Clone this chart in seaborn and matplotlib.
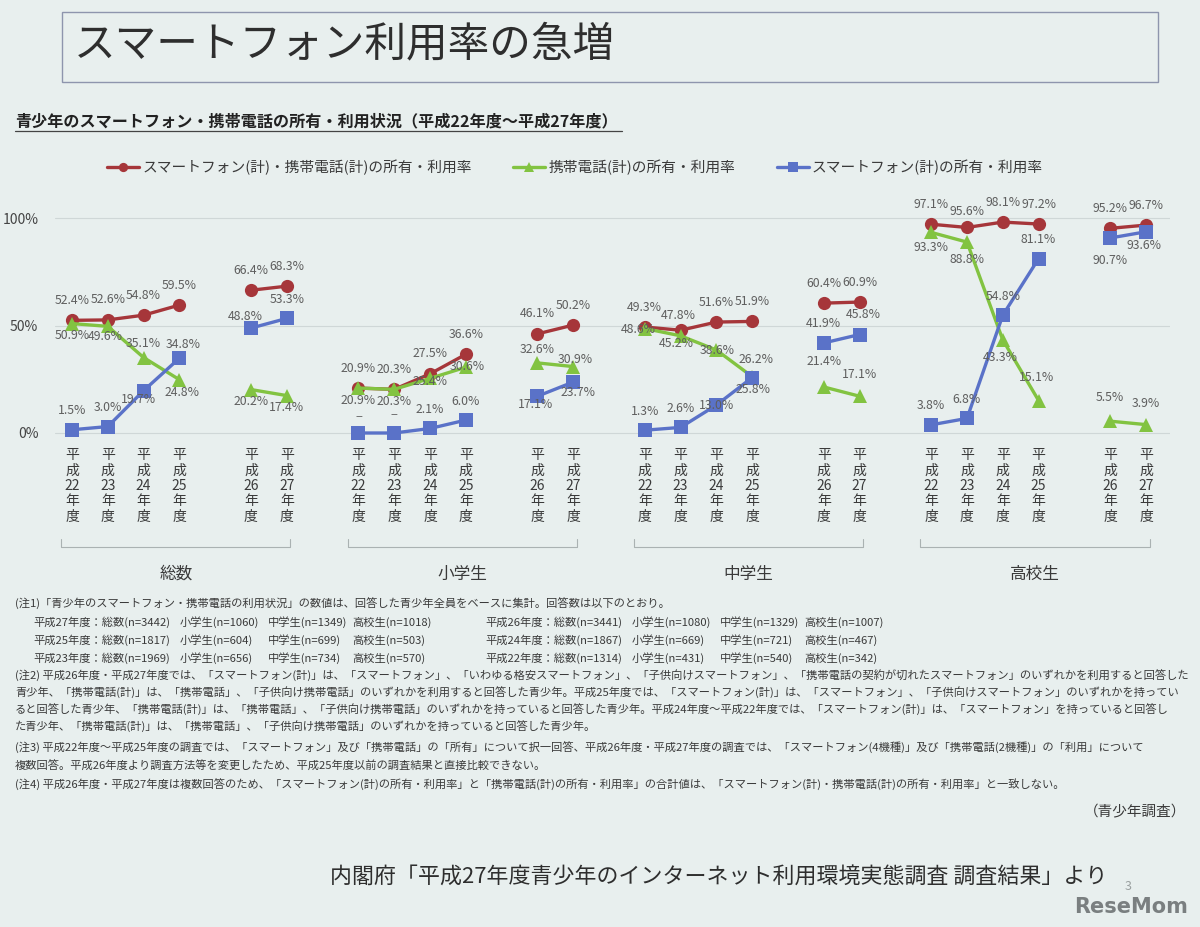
import matplotlib
matplotlib.use("Agg")
import matplotlib.pyplot as plt
import matplotlib.transforms as mtrans
from matplotlib.patches import Rectangle
from matplotlib.lines import Line2D
import seaborn as sns
import pandas as pd

# ---------------- data ----------------
groups = ["総数", "小学生", "中学生", "高校生"]
years = ["平成22年度", "平成23年度", "平成24年度", "平成25年度", "平成26年度", "平成27年度"]
year_ticks = ["平\n成\n22\n年\n度", "平\n成\n23\n年\n度", "平\n成\n24\n年\n度",
              "平\n成\n25\n年\n度", "平\n成\n26\n年\n度", "平\n成\n27\n年\n度"]
series = ["スマートフォン(計)・携帯電話(計)の所有・利用率",
          "携帯電話(計)の所有・利用率",
          "スマートフォン(計)の所有・利用率"]

both_rate = [
    [52.4, 52.6, 54.8, 59.5, 66.4, 68.3],
    [20.9, 20.3, 27.5, 36.6, 46.1, 50.2],
    [49.3, 47.8, 51.6, 51.9, 60.4, 60.9],
    [97.1, 95.6, 98.1, 97.2, 95.2, 96.7],
]
phone_rate = [
    [50.9, 49.6, 35.1, 24.8, 20.2, 17.4],
    [20.9, 20.3, 25.4, 30.6, 32.6, 30.9],
    [48.6, 45.2, 38.6, 26.2, 21.4, 17.1],
    [93.3, 88.8, 43.3, 15.1, 5.5, 3.9],
]
smart_rate = [
    [1.5, 3.0, 19.7, 34.8, 48.8, 53.3],
    [None, None, 2.1, 6.0, 17.1, 23.7],
    [1.3, 2.6, 13.0, 25.8, 41.9, 45.8],
    [3.8, 6.8, 54.8, 81.1, 90.7, 93.6],
]

# ---------------- styles ----------------
colors = ["#a6363a", "#82c341", "#5a72c8"]
marker_shapes = ["o", "^", "s"]
slot = [0, 1, 2, 3, 5, 6]       # slot of each year inside a group (gap before H26)
group_step = 8
default_offset = [(0, 20), (0, -12), (0, 19)]   # pixels, per series
label_offset = {
    (0, 1, 1): (-2, -10), (0, 2, 1): (0, 14), (0, 2, 2): (-5, -9), (0, 4, 2): (-6, 12),
    (0, 3, 2): (4, 14), (0, 3, 1): (3, -13),
    (1, 2, 1): (0, -3), (1, 3, 1): (1, 1), (1, 4, 1): (0, 13), (1, 5, 1): (2, 7),
    (1, 4, 2): (-2, -8), (1, 5, 2): (5, -10), (1, 0, 2): (0, 15), (1, 1, 2): (0, 17),
    (2, 0, 1): (-6, -1), (2, 1, 1): (-4, -8), (2, 2, 1): (1, 0), (2, 3, 1): (4, 17),
    (2, 2, 2): (0, 0), (2, 3, 2): (1, -12), (2, 4, 1): (0, 25), (2, 5, 1): (0, 22),
    (2, 1, 0): (-2, 15), (2, 5, 2): (4, 20),
    (3, 0, 1): (0, -15), (3, 1, 1): (0, -17), (3, 2, 1): (-2, -18),
    (3, 3, 1): (-2, 23), (3, 4, 1): (0, 24), (3, 5, 1): (0, 21),
    (3, 4, 2): (0, -23), (3, 5, 2): (-2, -14), (3, 1, 0): (0, 16),
}

W, H = 1200, 927
BG = "#e8efee"
TXT = "#3a3a3a"

sns.set_theme(style="white")
plt.rcParams["font.family"] = ["Noto Sans CJK JP", "DejaVu Sans"]

fig = plt.figure(figsize=(W / 100, H / 100), dpi=100, facecolor=BG)


def fx(px):
    return px / W


def fy(py):
    return 1 - py / H


ax = fig.add_axes([fx(55), fy(440), fx(1170) - fx(55), (440 - 200) / H])
ax.set_facecolor(BG)

rows = []
for gi, g in enumerate(groups):
    for si, (sname, arr) in enumerate(zip(series, [both_rate, phone_rate, smart_rate])):
        for yi, v in enumerate(arr[gi]):
            rows.append(dict(
                group=g, gi=gi, yi=yi, si=si, year=years[yi], series=sname,
                value=0.0 if v is None else v,
                label="−" if v is None else f"{v:.1f}%",
                pos=gi * group_step + slot[yi],
                seg=f"{g}|{sname}|{'a' if yi < 4 else 'b'}",
            ))
df = pd.DataFrame(rows)

sns.lineplot(
    data=df, x="pos", y="value", hue="series", style="series", units="seg",
    estimator=None, sort=False, hue_order=series, style_order=series,
    palette=dict(zip(series, colors)), markers=dict(zip(series, marker_shapes)),
    dashes=False, linewidth=2.4, markersize=9.5, markeredgewidth=0, ax=ax,
)

# value labels
for _, r in df.iterrows():
    off = label_offset.get((r.gi, r.yi, r.si), default_offset[r.si])
    ax.annotate(r.label, (r.pos, r.value), xytext=off, textcoords="offset pixels",
                ha="center", va="center", fontsize=8.8, color="#5e5e5e", zorder=5)

# axes
ax.set_xlim((55 - 72) / 35.8, (1170 - 72) / 35.8)
ax.set_ylim(-(440 - 433) / 2.15, (433 - 200) / 2.15)
ax.set_yticks([0, 50, 100])
ax.set_yticklabels(["0%", "50%", "100%"], fontsize=10, color="#444444")
positions = [gi * group_step + s for gi in range(len(groups)) for s in slot]
ax.set_xticks(positions)
ax.set_xticklabels(year_ticks * len(groups), fontsize=10, color=TXT, linespacing=1.12)
ax.tick_params(axis="x", length=0, pad=6)
ax.tick_params(axis="y", length=0, pad=12)
ax.grid(axis="y", color="#cfd7d7", lw=0.8)
ax.grid(axis="x", visible=False)
ax.set_axisbelow(True)
ax.set_xlabel("")
ax.set_ylabel("")
sns.despine(ax=ax, left=True, bottom=True)

# legend
sns.move_legend(ax, "center", bbox_to_anchor=(fx(575), fy(167)),
                bbox_transform=fig.transFigure, ncol=3, frameon=False, title=None,
                fontsize=10.6, columnspacing=2.8, handlelength=2.2, handletextpad=0.2,
                markerscale=0.7)
for t in ax.get_legend().get_texts():
    t.set_color(TXT)

# group brackets and names
trans = mtrans.blended_transform_factory(ax.transData, fig.transFigure)
for gi, g in enumerate(groups):
    x0 = gi * group_step + slot[0] - 0.3
    x1 = gi * group_step + slot[-1] + 0.1
    ax.plot([x0, x0, x1, x1], [fy(539), fy(547), fy(547), fy(539)], transform=trans,
            color="#aab2b2", lw=0.8, clip_on=False)
    ax.text((x0 + x1) / 2, fy(574), g, transform=trans, ha="center", va="center",
            fontsize=12, color=TXT)

# title box
fig.patches.append(Rectangle((fx(62), fy(82)), fx(1158) - fx(62), (82 - 12) / H,
                             transform=fig.transFigure, fill=False,
                             edgecolor="#8e95ad", lw=1.0))
fig.text(fx(74), fy(45), "スマートフォン利用率の急増", fontsize=30, color="#2e2e2e",
         ha="left", va="center")

# subtitle
fig.text(fx(15), fy(121), "青少年のスマートフォン・携帯電話の所有・利用状況（平成22年度～平成27年度）",
         fontsize=11.6, color="#222222", ha="left", va="center", fontweight="bold")
fig.add_artist(Line2D([fx(15), fx(622)], [fy(131), fy(131)], color="#444444", lw=0.9))

# notes
note_fs = 8.1
notes = [
    (15, 604, "(注1)「青少年のスマートフォン・携帯電話の利用状況」の数値は、回答した青少年全員をベースに集計。回答数は以下のとおり。"),
    (15, 676, "(注2) 平成26年度・平成27年度では、「スマートフォン(計)」は、「スマートフォン」、「いわゆる格安スマートフォン」、「子供向けスマートフォン」、「携帯電話の契約が切れたスマートフォン」のいずれかを利用すると回答した"),
    (15, 693, "青少年、「携帯電話(計)」は、「携帯電話」、「子供向け携帯電話」のいずれかを利用すると回答した青少年。平成25年度では、「スマートフォン(計)」は、「スマートフォン」、「子供向けスマートフォン」のいずれかを持ってい"),
    (15, 710, "ると回答した青少年、「携帯電話(計)」は、「携帯電話」、「子供向け携帯電話」のいずれかを持っていると回答した青少年。平成24年度～平成22年度では、「スマートフォン(計)」は、「スマートフォン」を持っていると回答し"),
    (15, 727, "た青少年、「携帯電話(計)」は、「携帯電話」、「子供向け携帯電話」のいずれかを持っていると回答した青少年。"),
    (15, 748, "(注3) 平成22年度～平成25年度の調査では、「スマートフォン」及び「携帯電話」の「所有」について択一回答、平成26年度・平成27年度の調査では、「スマートフォン(4機種)」及び「携帯電話(2機種)」の「利用」について"),
    (15, 766, "複数回答。平成26年度より調査方法等を変更したため、平成25年度以前の調査結果と直接比較できない。"),
    (15, 785, "(注4) 平成26年度・平成27年度は複数回答のため、「スマートフォン(計)の所有・利用率」と「携帯電話(計)の所有・利用率」の合計値は、「スマートフォン(計)・携帯電話(計)の所有・利用率」と一致しない。"),
]
for x, y, s in notes:
    fig.text(fx(x), fy(y), s, fontsize=note_fs, color=TXT, ha="left", va="center")

n_rows = [
    (622, ["平成27年度：総数(n=3442)", "小学生(n=1060)", "中学生(n=1349)", "高校生(n=1018)"],
          ["平成26年度：総数(n=3441)", "小学生(n=1080)", "中学生(n=1329)", "高校生(n=1007)"]),
    (640, ["平成25年度：総数(n=1817)", "小学生(n=604)", "中学生(n=699)", "高校生(n=503)"],
          ["平成24年度：総数(n=1867)", "小学生(n=669)", "中学生(n=721)", "高校生(n=467)"]),
    (658, ["平成23年度：総数(n=1969)", "小学生(n=656)", "中学生(n=734)", "高校生(n=570)"],
          ["平成22年度：総数(n=1314)", "小学生(n=431)", "中学生(n=540)", "高校生(n=342)"]),
]
left_cols = [33, 180, 268, 352]
right_cols = [485, 632, 720, 804]
for y, left, right in n_rows:
    for x, s in zip(left_cols, left):
        fig.text(fx(x), fy(y), s, fontsize=note_fs, color=TXT, ha="left", va="center")
    for x, s in zip(right_cols, right):
        fig.text(fx(x), fy(y), s, fontsize=note_fs, color=TXT, ha="left", va="center")

fig.text(fx(1186), fy(812), "（青少年調査）", fontsize=10.5, color=TXT, ha="right", va="center")

# source
fig.text(fx(330), fy(878), "内閣府「平成27年度青少年のインターネット利用環境実態調査 調査結果」より",
         fontsize=15.8, color="#2e2e2e", ha="left", va="center")
fig.text(fx(1128), fy(887), "3", fontsize=9, color="#9aa0a0", ha="center", va="center")
fig.text(fx(1188), fy(907), "ReseMom", fontsize=15, color="#7a7f80", ha="right",
         va="center", fontweight="bold", family=["DejaVu Sans"])

fig.savefig("out.png", dpi=100, facecolor=BG)
